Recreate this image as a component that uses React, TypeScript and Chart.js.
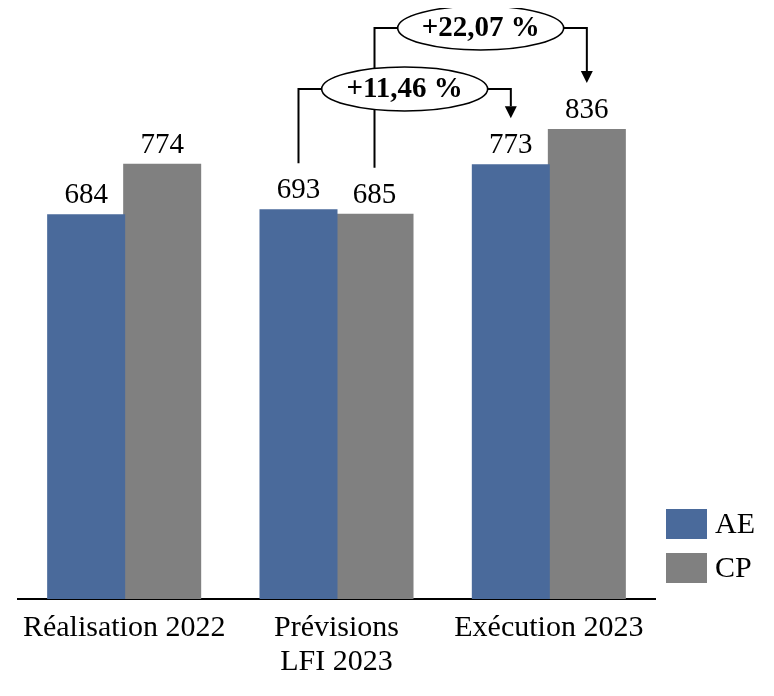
import React, { useEffect, useRef } from "react";
import { Chart, registerables } from "chart.js";

Chart.register(...registerables);

const categories: (string | string[])[] = ["Réalisation 2022", ["Prévisions", "LFI 2023"], "Exécution 2023"];
const seriesNames = ["AE", "CP"];
const aeValues = [684, 693, 773];
const cpValues = [774, 685, 836];
const growthLabels = ["+11,46 %", "+22,07 %"];

const BLUE = "#4A6A9B";
const GREY = "#808080";
const FONT = "'Liberation Serif', 'Times New Roman', serif";

const overlayPlugin = {
  id: "overlay",
  afterDatasetsDraw(chart: any) {
    const ctx = chart.ctx as CanvasRenderingContext2D;
    const area = chart.chartArea;
    const m0 = chart.getDatasetMeta(0);
    const m1 = chart.getDatasetMeta(1);

    // value labels
    ctx.save();
    ctx.fillStyle = "#000";
    ctx.font = `29px ${FONT}`;
    ctx.textAlign = "center";
    ctx.textBaseline = "alphabetic";
    [m0, m1].forEach((meta: any, di: number) => {
      meta.data.forEach((bar: any, i: number) => {
        const v = chart.data.datasets[di].data[i];
        ctx.fillText(String(v), bar.x, bar.y - 12);
      });
    });
    ctx.restore();

    // growth annotations
    const gap = 47;
    const drawAnn = (from: any, to: any, levelY: number, label: string) => {
      const cx = (from.x + to.x) / 2;
      const rx = 83;
      const ry = 22;
      ctx.save();
      ctx.strokeStyle = "#000";
      ctx.lineWidth = 2;
      ctx.beginPath();
      ctx.moveTo(from.x, from.y - gap);
      ctx.lineTo(from.x, levelY);
      ctx.lineTo(to.x, levelY);
      ctx.lineTo(to.x, to.y - gap - 12);
      ctx.stroke();
      ctx.fillStyle = "#000";
      ctx.beginPath();
      ctx.moveTo(to.x - 6, to.y - gap - 12);
      ctx.lineTo(to.x + 6, to.y - gap - 12);
      ctx.lineTo(to.x, to.y - gap);
      ctx.closePath();
      ctx.fill();
      ctx.beginPath();
      ctx.ellipse(cx, levelY, rx, ry, 0, 0, Math.PI * 2);
      ctx.fillStyle = "#fff";
      ctx.fill();
      ctx.lineWidth = 1.6;
      ctx.stroke();
      ctx.fillStyle = "#000";
      ctx.font = `bold 29px ${FONT}`;
      ctx.textAlign = "center";
      ctx.textBaseline = "middle";
      ctx.fillText(label, cx, levelY + 1);
      ctx.restore();
    };
    drawAnn(m1.data[1], m1.data[2], area.top - 10, growthLabels[1]);
    drawAnn(m0.data[1], m0.data[2], area.top + 51, growthLabels[0]);

    // legend
    ctx.save();
    ctx.font = `30px ${FONT}`;
    ctx.textBaseline = "middle";
    ctx.textAlign = "left";
    chart.data.datasets.forEach((ds: any, i: number) => {
      const y = 501 + i * 44;
      ctx.fillStyle = ds.backgroundColor;
      ctx.fillRect(area.right + 11, y, 41, 30);
      ctx.fillStyle = "#000";
      ctx.fillText(ds.label, area.right + 60, y + 16);
    });
    ctx.restore();
  },
};

export default function App() {
  const ref = useRef<HTMLCanvasElement>(null);
  useEffect(() => {
    if (!ref.current) return;
    const chart = new Chart(ref.current, {
      type: "bar",
      data: {
        labels: categories,
        datasets: [
          { label: seriesNames[0], data: aeValues, backgroundColor: BLUE, borderWidth: 0 },
          { label: seriesNames[1], data: cpValues, backgroundColor: GREY, borderWidth: 0 },
        ],
      },
      options: {
        responsive: false,
        animation: false,
        devicePixelRatio: 1,
        layout: { padding: { left: 10, right: 111, top: 30, bottom: 0 } },
        plugins: { legend: { display: false }, tooltip: { enabled: false } },
        datasets: { bar: { categoryPercentage: 0.716, barPercentage: 1, inflateAmount: 1 } },
        scales: {
          x: {
            grid: { display: false, drawTicks: false },
            border: { display: true, color: "#000", width: 2 },
            ticks: {
              color: "#000",
              font: { family: FONT, size: 30, lineHeight: 1.13 },
              padding: 12,
              maxRotation: 0,
              autoSkip: false,
            },
            afterFit(scale: any) {
              scale.height = 89;
            },
          },
          y: { display: false, min: 0, max: 1000 },
        },
      },
      plugins: [overlayPlugin],
    });
    return () => chart.destroy();
  }, []);
  return (
    <div style={{ width: 758, height: 680 }}>
      <canvas ref={ref} width={758} height={680} />
    </div>
  );
}
